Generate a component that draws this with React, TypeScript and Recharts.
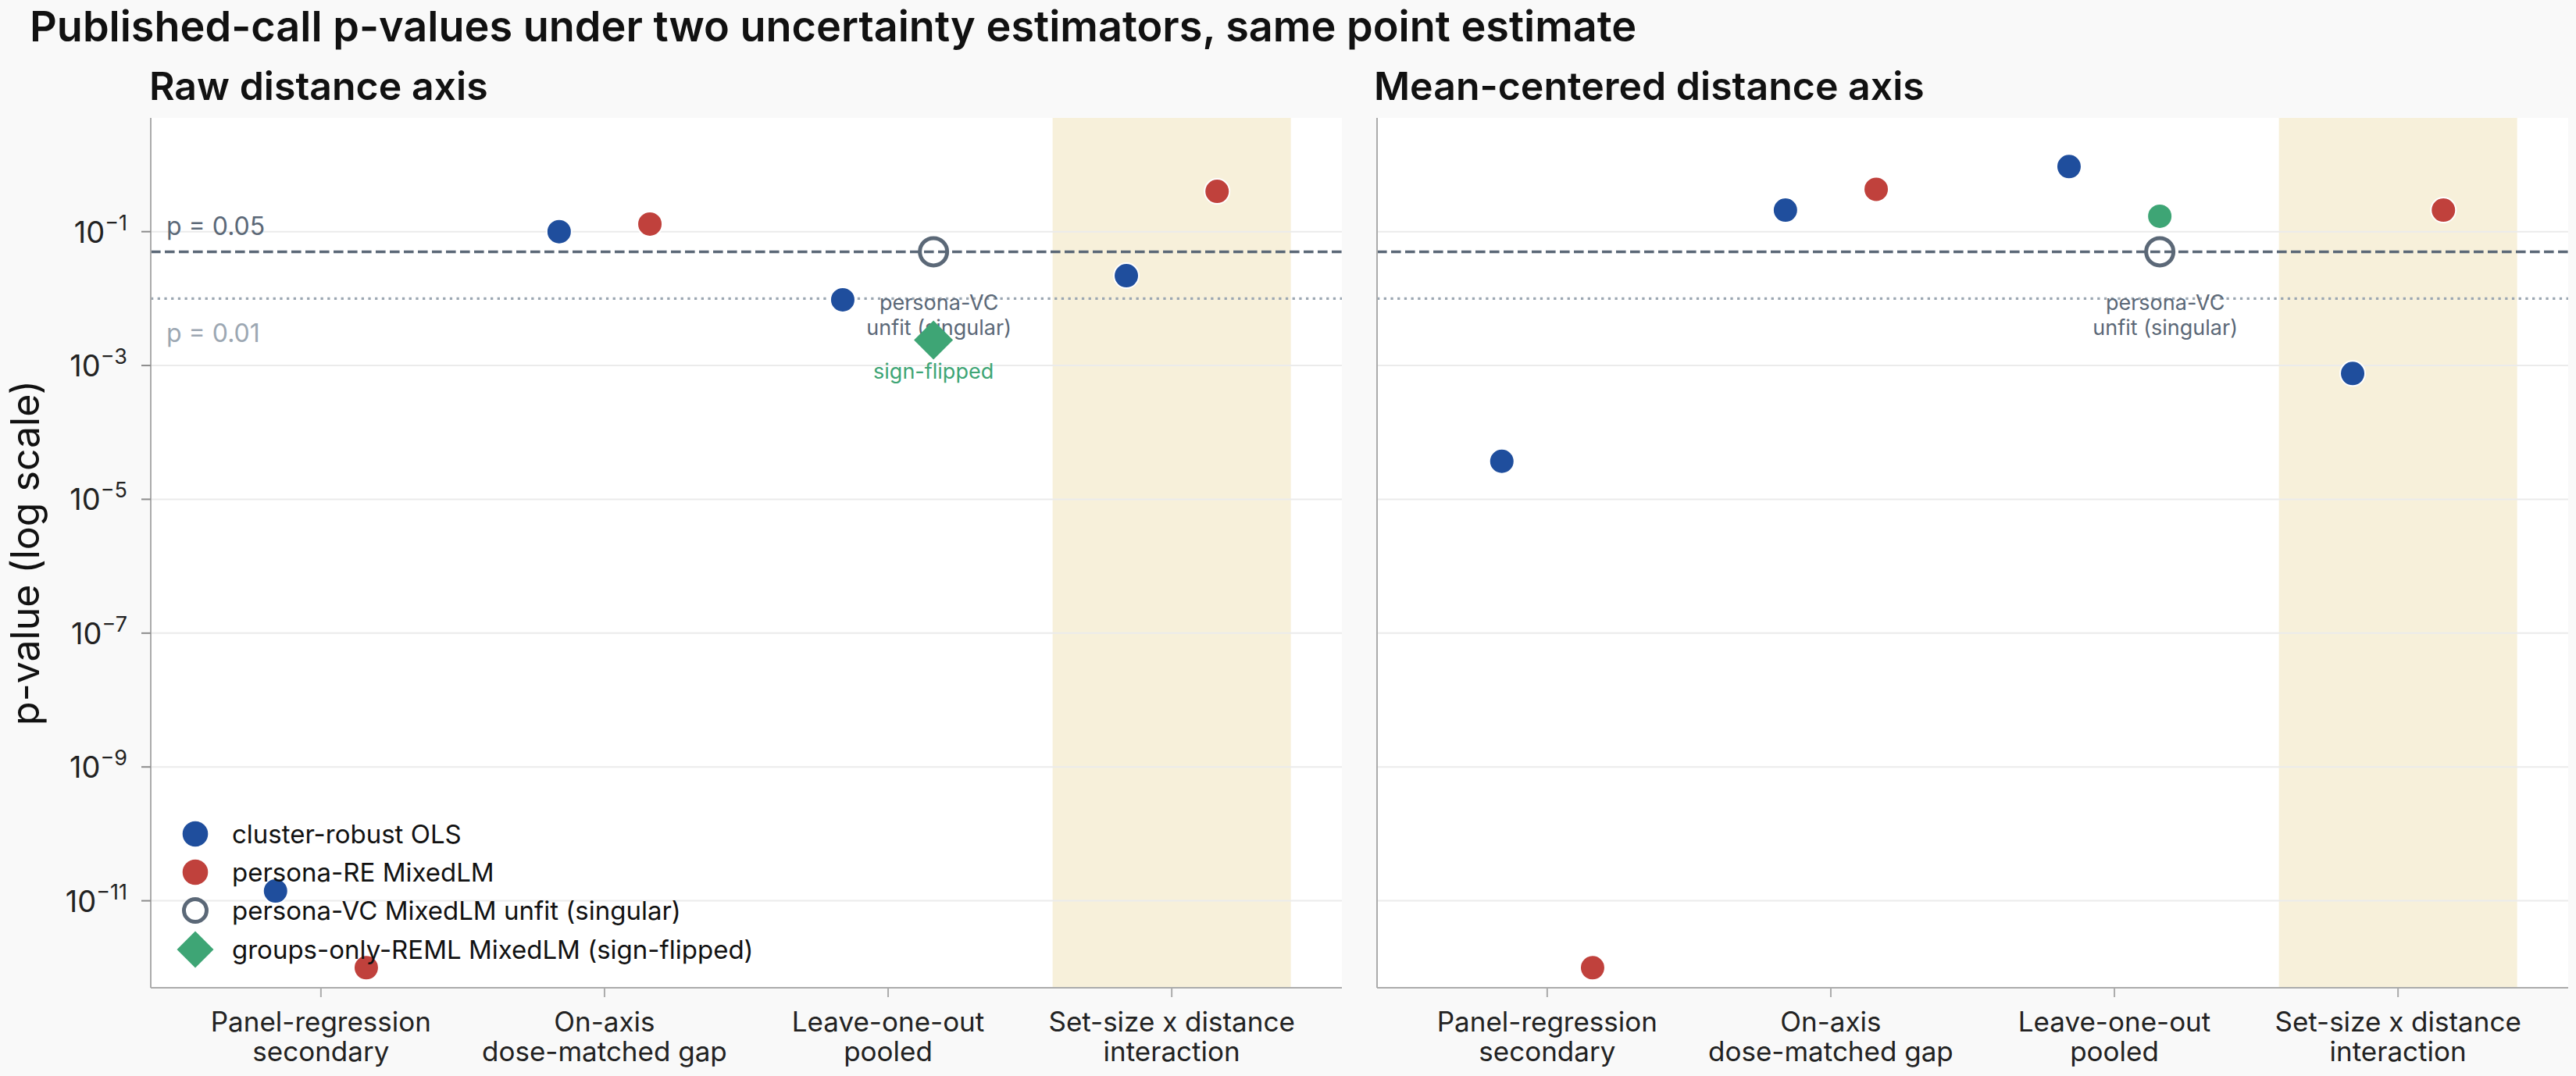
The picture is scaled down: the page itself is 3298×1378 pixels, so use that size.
// p-value comparison across two distance parameterisations
import React from "react"
import {
  ScatterChart,
  Scatter,
  XAxis,
  YAxis,
  CartesianGrid,
  ReferenceLine,
  ReferenceArea,
  Legend,
} from "recharts"

const CATEGORIES = [
  "Panel-regression\nsecondary",
  "On-axis\ndose-matched gap",
  "Leave-one-out\npooled",
  "Set-size x distance\ninteraction",
]
const CATEGORY_TICKS = [0, 1, 2, 3]
const HIGHLIGHT_CATEGORY = 3

const SERIES_NAMES = [
  "cluster-robust OLS",
  "persona-RE MixedLM",
  "persona-VC MixedLM unfit (singular)",
  "groups-only-REML MixedLM (sign-flipped)",
]

// raw distance axis (null = no estimate shown)
const RAW_OLS = [1.4e-11, 0.1, 0.0096, 0.022]
const RAW_RE = [1e-12, 0.13, null, 0.4]
const RAW_VC_UNFIT = [null, null, 0.05, null]
const RAW_GROUPS = [null, null, 0.0024, null]
const RAW_SIGN_FLIPPED = [false, false, true, false]

// mean-centered distance axis
const CEN_OLS = [3.7e-5, 0.21, 0.94, 7.6e-4]
const CEN_RE = [1e-12, 0.43, null, 0.21]
const CEN_VC_UNFIT = [null, null, 0.05, null]
const CEN_GROUPS = [null, null, 0.17, null]
const CEN_SIGN_FLIPPED = [false, false, false, false]

const Y_TICKS = [1e-1, 1e-3, 1e-5, 1e-7, 1e-9, 1e-11]
const THRESHOLDS = [0.05, 0.01]
const THRESHOLD_LABELS = ["p = 0.05", "p = 0.01"]
const UNFIT_NOTE = ["persona-VC", "unfit (singular)"]
const FLIP_NOTE = "sign-flipped"

const TITLE = "Published-call p-values under two uncertainty estimators, same point estimate"
const PANEL_TITLES = ["Raw distance axis", "Mean-centered distance axis"]
const Y_LABEL = "p-value (log scale)"

const BLUE = "#1f4e9d"
const RED = "#c0413c"
const GREEN = "#3ea575"
const SLATE = "#5b6877"
const LIGHT_SLATE = "#9ca7b2"
const SHADE = "#f7f0da"
const GRID = "#ebebeb"
const AXIS = "#ababab"
const FONT = "Inter, sans-serif"

const DODGE = 0.16
const SHADE_HALF = 0.42

function toPoints(values: (number | null)[], dx: number, flags?: boolean[]) {
  return values.flatMap((p, i) =>
    p == null ? [] : [{ x: i + dx, p, flipped: flags ? flags[i] : false }]
  )
}

const dotShape = (color: string) => (props: any) => (
  <circle cx={props.cx} cy={props.cy} r={16} fill={color} stroke="#fff" strokeWidth={2} />
)

function UnfitShape(props: any) {
  const { cx, cy } = props
  return (
    <g>
      <circle cx={cx} cy={cy} r={17.5} fill="none" stroke={SLATE} strokeWidth={5} />
      <text x={cx + 7} y={cy + 75} textAnchor="middle" fontSize={27} fill={SLATE} fontFamily={FONT}>
        {UNFIT_NOTE[0]}
      </text>
      <text x={cx + 7} y={cy + 107} textAnchor="middle" fontSize={27} fill={SLATE} fontFamily={FONT}>
        {UNFIT_NOTE[1]}
      </text>
    </g>
  )
}

function GroupsShape(props: any) {
  const { cx, cy, payload } = props
  if (!payload.flipped) {
    return <circle cx={cx} cy={cy} r={16} fill={GREEN} stroke="#fff" strokeWidth={2} />
  }
  const h = 25
  return (
    <g>
      <path d={`M${cx},${cy - h}L${cx + h},${cy}L${cx},${cy + h}L${cx - h},${cy}Z`} fill={GREEN} />
      <text x={cx} y={cy + 50} textAnchor="middle" fontSize={27} fill={GREEN} fontFamily={FONT}>
        {FLIP_NOTE}
      </text>
    </g>
  )
}

function LogTick({ x, y, payload }: any) {
  const exp = Math.round(Math.log10(payload.value))
  return (
    <text x={x} y={y + 14} textAnchor="end" fontSize={38} fill="#222" fontFamily={FONT}>
      <tspan>10</tspan>
      <tspan dy={-16} fontSize={27}>{"\u2212" + Math.abs(exp)}</tspan>
    </text>
  )
}

function CategoryTick({ x, y, payload }: any) {
  const lines = CATEGORIES[payload.value].split("\n")
  return (
    <text textAnchor="middle" fontSize={35} fill="#222" fontFamily={FONT}>
      <tspan x={x} y={y + 44}>{lines[0]}</tspan>
      <tspan x={x} y={y + 82}>{lines[1]}</tspan>
    </text>
  )
}

function ThresholdLabel({ viewBox, text, color, dy }: any) {
  return (
    <text x={viewBox.x + 20} y={viewBox.y + dy} fontSize={32} fill={color} fontFamily={FONT}>
      {text}
    </text>
  )
}

function YTitle({ viewBox }: any) {
  const x = viewBox.x + 50
  const y = viewBox.y + viewBox.height / 2
  return (
    <text x={x} y={y} transform={`rotate(-90 ${x} ${y})`} textAnchor="middle" fontSize={50} fill="#111" fontFamily={FONT}>
      {Y_LABEL}
    </text>
  )
}

function legendMarker(i: number) {
  if (i === 0) return <circle cx={25} cy={25} r={16.3} fill={BLUE} />
  if (i === 1) return <circle cx={25} cy={25} r={16.3} fill={RED} />
  if (i === 2) return <circle cx={25} cy={25} r={14.5} fill="none" stroke={SLATE} strokeWidth={5} />
  return <path d="M25,1.5L48.5,25L25,48.5L1.5,25Z" fill={GREEN} />
}

function LegendBody() {
  return (
    <div style={{ display: "flex", flexDirection: "column" }}>
      {SERIES_NAMES.map((name, i) => (
        <div key={name} style={{ display: "flex", alignItems: "center", height: 49.3 }}>
          <svg width={50} height={50} style={{ flex: "none" }}>{legendMarker(i)}</svg>
          <span style={{ marginLeft: 22, fontSize: 33, color: "#111", fontFamily: FONT, whiteSpace: "nowrap" }}>
            {name}
          </span>
        </div>
      ))}
    </div>
  )
}

interface PanelProps {
  left: number
  width: number
  yAxisWidth: number
  marginRight: number
  ols: (number | null)[]
  re: (number | null)[]
  unfit: (number | null)[]
  groups: (number | null)[]
  flipped: boolean[]
  first: boolean
}

function Panel({ left, width, yAxisWidth, marginRight, ols, re, unfit, groups, flipped, first }: PanelProps) {
  return (
    <div style={{ position: "absolute", left, top: 0 }}>
      <ScatterChart width={width} height={1378} margin={{ top: 151, right: marginRight, bottom: 0, left: 0 }}>
        <CartesianGrid horizontal={false} vertical={false} fill="#ffffff" />
        <ReferenceArea
          x1={HIGHLIGHT_CATEGORY - SHADE_HALF}
          x2={HIGHLIGHT_CATEGORY + SHADE_HALF}
          fill={SHADE}
          fillOpacity={1}
          stroke="none"
        />
        {Y_TICKS.map((t) => (
          <ReferenceLine key={t} y={t} stroke={GRID} strokeWidth={2} />
        ))}
        <XAxis
          type="number"
          dataKey="x"
          domain={[-0.6, 3.6]}
          ticks={CATEGORY_TICKS}
          allowDataOverflow
          height={113}
          tickSize={12}
          tickMargin={0}
          tick={<CategoryTick />}
          axisLine={{ stroke: AXIS, strokeWidth: 2 }}
          tickLine={{ stroke: AXIS, strokeWidth: 2 }}
        />
        <YAxis
          type="number"
          dataKey="p"
          scale="log"
          domain={[Math.pow(10, -12.3), Math.pow(10, 0.7)]}
          ticks={Y_TICKS}
          allowDataOverflow
          width={yAxisWidth}
          tickSize={12}
          tickMargin={18}
          tick={first ? <LogTick /> : false}
          axisLine={{ stroke: AXIS, strokeWidth: 2 }}
          tickLine={{ stroke: "#8c8c8c", strokeWidth: 2 }}
          label={first ? <YTitle /> : undefined}
        />
        <ReferenceLine
          y={THRESHOLDS[0]}
          stroke={SLATE}
          strokeWidth={3.4}
          strokeDasharray="12.6 5.4"
          label={first ? <ThresholdLabel text={THRESHOLD_LABELS[0]} color={SLATE} dy={-21} /> : undefined}
        />
        <ReferenceLine
          y={THRESHOLDS[1]}
          stroke={LIGHT_SLATE}
          strokeWidth={3.2}
          strokeDasharray="3.3 5.4"
          label={first ? <ThresholdLabel text={THRESHOLD_LABELS[1]} color={LIGHT_SLATE} dy={56} /> : undefined}
        />
        <Scatter name={SERIES_NAMES[0]} data={toPoints(ols, -DODGE)} shape={dotShape(BLUE)} isAnimationActive={false} />
        <Scatter name={SERIES_NAMES[1]} data={toPoints(re, DODGE)} shape={dotShape(RED)} isAnimationActive={false} />
        <Scatter name={SERIES_NAMES[2]} data={toPoints(unfit, DODGE)} shape={UnfitShape} isAnimationActive={false} />
        <Scatter
          name={SERIES_NAMES[3]}
          data={toPoints(groups, DODGE, flipped)}
          shape={GroupsShape}
          isAnimationActive={false}
        />
        {first && (
          <Legend
            layout="horizontal"
            verticalAlign="middle"
            align="center"
            content={<LegendBody />}
            wrapperStyle={{ left: 225, top: 1043, width: 800, height: 210 }}
          />
        )}
      </ScatterChart>
    </div>
  )
}

export default function App() {
  return (
    <div
      style={{
        position: "absolute",
        left: 0,
        top: 0,
        width: 3298,
        height: 1378,
        background: "#f9f9f9",
        fontFamily: FONT,
        overflow: "hidden",
      }}
    >
      <Panel
        left={0}
        width={1730}
        yAxisWidth={193}
        marginRight={12}
        ols={RAW_OLS}
        re={RAW_RE}
        unfit={RAW_VC_UNFIT}
        groups={RAW_GROUPS}
        flipped={RAW_SIGN_FLIPPED}
        first
      />
      <Panel
        left={1718}
        width={1580}
        yAxisWidth={45}
        marginRight={10}
        ols={CEN_OLS}
        re={CEN_RE}
        unfit={CEN_VC_UNFIT}
        groups={CEN_GROUPS}
        flipped={CEN_SIGN_FLIPPED}
        first={false}
      />
      <div style={{ position: "absolute", left: 38, top: 7.4, fontSize: 54, lineHeight: 1, fontWeight: 600, color: "#111", whiteSpace: "nowrap" }}>
        {TITLE}
      </div>
      <div style={{ position: "absolute", left: 191, top: 85, fontSize: 50, lineHeight: 1, fontWeight: 600, color: "#111", whiteSpace: "nowrap" }}>
        {PANEL_TITLES[0]}
      </div>
      <div style={{ position: "absolute", left: 1759, top: 85, fontSize: 50, lineHeight: 1, fontWeight: 600, color: "#111", whiteSpace: "nowrap" }}>
        {PANEL_TITLES[1]}
      </div>
    </div>
  )
}
